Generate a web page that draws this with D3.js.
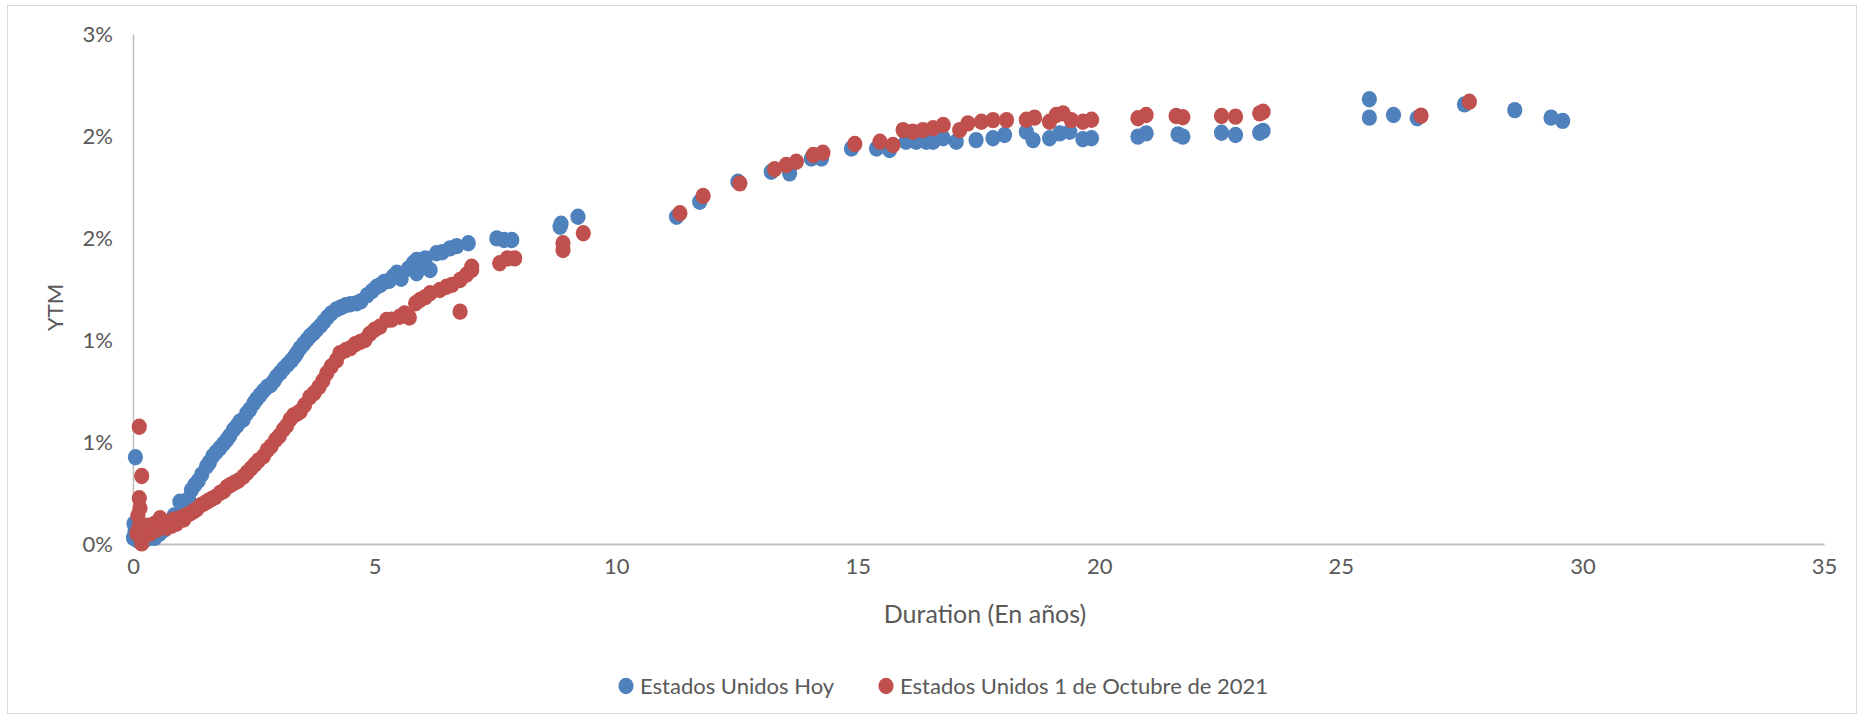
<!DOCTYPE html>
<html>
<head>
<meta charset="utf-8">
<script src="https://cdn.jsdelivr.net/npm/d3@7"></script>
<style>
  body { margin: 0; background: #fff; }
  svg text { font-family: Lato, "Open Sans", sans-serif; fill: #595959; }
</style>
</head>
<body>
<svg id="chart"></svg>
<script>
// [duration in years, YTM in %]
let hoy = [
  [0.01, 0.03], [0.02, 0.10], [0.05, 0.425], [0.04, 0.06], [0.08, 0.02], [0.15, 0.01], [0.25, 0.02],
  [0.35, 0.03], [0.45, 0.03], [0.55, 0.05], [0.65, 0.07], [0.75, 0.10], [0.85, 0.14], [0.97, 0.207],
  [1.05, 0.19], [1.15, 0.22], [1.21, 0.265], [1.28, 0.29], [1.35, 0.31], [1.42, 0.34], [1.52, 0.38],
  [1.58, 0.40], [1.65, 0.43], [1.72, 0.45], [1.8, 0.47], [1.87, 0.49], [1.94, 0.51], [2.0, 0.53],
  [2.08, 0.56], [2.15, 0.58], [2.21, 0.60], [2.28, 0.61], [2.35, 0.64], [2.42, 0.66], [2.5, 0.69],
  [2.56, 0.71], [2.63, 0.73], [2.7, 0.75], [2.78, 0.77], [2.85, 0.78], [2.92, 0.80], [2.97, 0.82],
  [3.05, 0.84], [3.12, 0.86], [3.2, 0.88], [3.28, 0.90], [3.35, 0.92], [3.39, 0.935], [3.46, 0.96],
  [3.53, 0.98], [3.6, 1.0], [3.67, 1.02], [3.74, 1.035], [3.8, 1.05], [3.88, 1.07], [3.95, 1.09],
  [4.02, 1.11], [4.1, 1.13], [4.21, 1.15], [4.3, 1.16], [4.4, 1.17], [4.5, 1.175], [4.63, 1.18],
  [4.72, 1.19], [4.85, 1.22], [4.95, 1.24], [5.04, 1.26], [5.12, 1.27], [5.2, 1.285], [5.3, 1.29],
  [5.38, 1.31], [5.46, 1.33], [5.55, 1.30], [5.7, 1.35], [5.8, 1.376], [5.87, 1.392], [5.87, 1.327],
  [5.95, 1.39], [6.05, 1.40], [6.15, 1.343], [6.28, 1.425], [6.4, 1.43], [6.56, 1.449], [6.7, 1.46],
  [6.94, 1.474], [7.53, 1.498], [7.68, 1.49], [7.84, 1.49], [8.84, 1.555], [8.86, 1.57], [9.21, 1.604],
  [11.25, 1.604], [11.73, 1.678], [12.52, 1.776], [13.21, 1.825], [13.59, 1.817], [14.04, 1.89],
  [14.25, 1.89], [14.87, 1.939], [15.39, 1.939], [15.66, 1.931], [16.0, 1.972], [16.21, 1.972],
  [16.42, 1.972], [16.56, 1.972], [16.77, 1.989], [17.04, 1.972], [17.45, 1.98], [17.8, 1.989],
  [18.04, 2.005], [18.49, 2.021], [18.63, 1.98], [18.97, 1.989], [19.18, 2.013], [19.39, 2.021],
  [19.66, 1.984], [19.84, 1.989], [20.8, 1.997], [20.97, 2.013], [21.63, 2.008], [21.73, 1.997],
  [22.53, 2.016], [22.82, 2.005], [23.32, 2.016], [23.39, 2.025], [25.59, 2.18], [25.59, 2.09],
  [26.09, 2.103], [26.58, 2.087], [27.56, 2.155], [28.6, 2.127], [29.35, 2.09], [29.59, 2.074]
]

let oct2021 = [
  [0.13, 0.575], [0.18, 0.333], [0.13, 0.224], [0.145, 0.175], [0.1, 0.14], [0.08, 0.052], [0.12, 0.08],
  [0.18, 0.003], [0.2, 0.03], [0.25, 0.06], [0.3, 0.09], [0.35, 0.05], [0.4, 0.08], [0.45, 0.10],
  [0.5, 0.07], [0.56, 0.126], [0.6, 0.09], [0.65, 0.1], [0.7, 0.08], [0.75, 0.11], [0.8, 0.09],
  [0.85, 0.12], [0.9, 0.1], [0.95, 0.12], [1.0, 0.13], [1.05, 0.12], [1.1, 0.14], [1.18, 0.15],
  [1.25, 0.16], [1.32, 0.17], [1.4, 0.19], [1.48, 0.2], [1.55, 0.21], [1.62, 0.22], [1.7, 0.23],
  [1.8, 0.25], [1.88, 0.26], [1.95, 0.28], [2.02, 0.29], [2.1, 0.30], [2.18, 0.31], [2.28, 0.33],
  [2.36, 0.35], [2.44, 0.37], [2.52, 0.39], [2.6, 0.41], [2.7, 0.43], [2.78, 0.46], [2.86, 0.48],
  [2.95, 0.51], [3.03, 0.53], [3.11, 0.56], [3.18, 0.58], [3.25, 0.61], [3.32, 0.63], [3.4, 0.64],
  [3.46, 0.65], [3.55, 0.68], [3.66, 0.72], [3.75, 0.74], [3.85, 0.77], [3.93, 0.80], [4.01, 0.837],
  [4.1, 0.87], [4.21, 0.90], [4.28, 0.935], [4.4, 0.95], [4.5, 0.96], [4.6, 0.98], [4.7, 0.99],
  [4.8, 1.0], [4.9, 1.03], [5.0, 1.05], [5.11, 1.065], [5.25, 1.098], [5.35, 1.10], [5.52, 1.114],
  [5.62, 1.13], [5.72, 1.11], [5.85, 1.18], [5.94, 1.196], [6.05, 1.21], [6.15, 1.229], [6.35, 1.245],
  [6.49, 1.261], [6.6, 1.27], [6.77, 1.294], [6.77, 1.139], [6.9, 1.32], [7.01, 1.343], [7.01, 1.359],
  [7.59, 1.376], [7.75, 1.40], [7.9, 1.40], [8.9, 1.474], [8.9, 1.441], [9.32, 1.523],
  [11.32, 1.621], [11.8, 1.706], [12.56, 1.768], [13.28, 1.837], [13.52, 1.858], [13.73, 1.874],
  [14.08, 1.907], [14.28, 1.918], [14.94, 1.961], [15.46, 1.972], [15.73, 1.956], [15.94, 2.029],
  [16.14, 2.021], [16.35, 2.029], [16.56, 2.038], [16.77, 2.054], [17.11, 2.029], [17.28, 2.062],
  [17.56, 2.07], [17.8, 2.078], [18.08, 2.078], [18.49, 2.08], [18.66, 2.09], [18.97, 2.07],
  [19.11, 2.103], [19.25, 2.111], [19.42, 2.078], [19.66, 2.07], [19.84, 2.08], [20.8, 2.087],
  [20.97, 2.103], [21.59, 2.098], [21.73, 2.092], [22.53, 2.098], [22.82, 2.095], [23.32, 2.111],
  [23.39, 2.119], [26.66, 2.1], [27.66, 2.168]
]

let seriesNames = ['Estados Unidos Hoy', 'Estados Unidos 1 de Octubre de 2021']
let seriesColors = ['#4F81BD', '#C0504D']
let xTicks = [0, 5, 10, 15, 20, 25, 30, 35]
let yTicks = [0, 0.5, 1, 1.5, 2, 2.5]
let yTickLabels = ['0%', '1%', '1%', '2%', '2%', '3%']

let W = 1865, H = 721

let svg = d3.select('#chart')
    .attr('width', W)
    .attr('height', H)

svg.append('rect')
    .attr('x', 7.5).attr('y', 5.5)
    .attr('width', 1849).attr('height', 708)
    .attr('fill', '#fff')
    .attr('stroke', '#d9d9d9')

let x = d3.scaleLinear().domain([0, 35]).range([133, 1824])
let y = d3.scaleLinear().domain([0, 2.5]).range([544, 34])

let xAxis = d3.axisBottom(x).tickValues(xTicks).tickSize(0).tickPadding(14)
let yAxis = d3.axisLeft(y).tickValues(yTicks).tickSize(0).tickPadding(20)
    .tickFormat((d, i) => yTickLabels[i])

let gx = svg.append('g').attr('transform', `translate(0, ${y(0)})`).call(xAxis)
let gy = svg.append('g').attr('transform', `translate(${x(0)}, 0)`).call(yAxis)

gx.select('.domain').attr('stroke', '#bfbfbf').attr('stroke-width', 2)
gy.select('.domain').attr('stroke', '#bfbfbf').attr('stroke-width', 1.5)
gx.selectAll('text').attr('font-size', 22).attr('fill', '#595959').attr('font-family', 'Lato')
gy.selectAll('text').attr('font-size', 22).attr('fill', '#595959').attr('font-family', 'Lato')

let dotG = svg.append('g')
;[hoy, oct2021].forEach((s, k) => {
    dotG.append('g').selectAll('ellipse')
        .data(s)
        .enter().append('ellipse')
        .attr('cx', d => x(d[0]))
        .attr('cy', d => y(d[1]))
        .attr('rx', 7.6)
        .attr('ry', 8.2)
        .attr('fill', seriesColors[k])
})

svg.append('text')
    .attr('x', 985).attr('y', 623)
    .attr('text-anchor', 'middle')
    .attr('font-size', 25)
    .text('Duration (En años)')

svg.append('text')
    .attr('transform', `translate(63, ${y(1.16)}) rotate(-90)`)
    .attr('text-anchor', 'middle')
    .attr('font-size', 22)
    .text('YTM')

let legend = svg.append('g').attr('transform', 'translate(0, 686)')
let legX = [626, 886]
seriesNames.forEach((n, i) => {
    legend.append('ellipse')
        .attr('cx', legX[i]).attr('cy', 0)
        .attr('rx', 7.6).attr('ry', 8.2)
        .attr('fill', seriesColors[i])
    legend.append('text')
        .attr('x', legX[i] + 14).attr('y', 7.5)
        .attr('font-size', 22)
        .text(n)
})
</script>
</body>
</html>
